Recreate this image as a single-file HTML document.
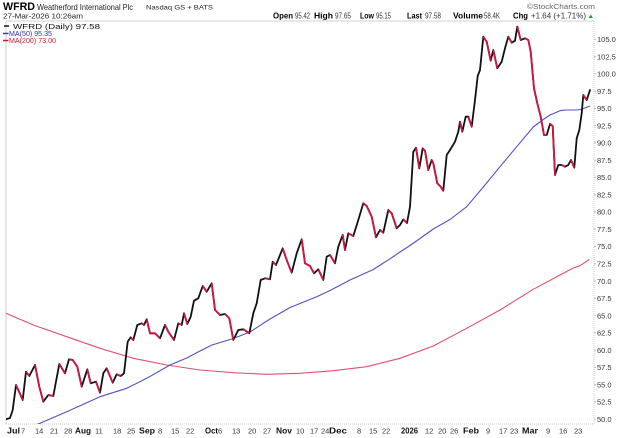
<!DOCTYPE html>
<html><head><meta charset="utf-8"><style>
html,body{margin:0;padding:0;background:#fff;}
svg{display:block;}
text{font-family:"Liberation Sans",Arial,sans-serif;}
</style></head><body>
<svg width="620" height="438" viewBox="0 0 620 438" xmlns="http://www.w3.org/2000/svg">
<rect width="620" height="438" fill="#fff"/>
<!-- header -->
<text x="3" y="10" font-size="11" font-weight="bold" textLength="32" lengthAdjust="spacingAndGlyphs">WFRD</text>
<text x="37" y="10" font-size="8.5" fill="#222" textLength="96" lengthAdjust="spacingAndGlyphs">Weatherford International Plc</text>
<text x="146" y="9.5" font-size="6.5" fill="#222" textLength="67" lengthAdjust="spacingAndGlyphs">Nasdaq GS + BATS</text>
<text x="527" y="9" font-size="7.5" fill="#666" textLength="68" lengthAdjust="spacingAndGlyphs">©StockCharts.com</text>
<text x="3" y="18.5" font-size="7.5" fill="#222" textLength="80" lengthAdjust="spacingAndGlyphs">27-Mar-2026 10:26am</text>
<g font-size="8.5" font-weight="bold">
<text x="273" y="18.5" textLength="20" lengthAdjust="spacingAndGlyphs">Open</text>
<text x="314" y="18.5" textLength="19" lengthAdjust="spacingAndGlyphs">High</text>
<text x="360" y="18.5" textLength="14" lengthAdjust="spacingAndGlyphs">Low</text>
<text x="407" y="18.5" textLength="15" lengthAdjust="spacingAndGlyphs">Last</text>
<text x="453" y="18.5" textLength="30" lengthAdjust="spacingAndGlyphs">Volume</text>
<text x="513" y="18.5" textLength="15" lengthAdjust="spacingAndGlyphs">Chg</text>
</g>
<g font-size="8" fill="#333">
<text x="295" y="18.5" textLength="15" lengthAdjust="spacingAndGlyphs">95.42</text>
<text x="335" y="18.5" textLength="16" lengthAdjust="spacingAndGlyphs">97.65</text>
<text x="376" y="18.5" textLength="15" lengthAdjust="spacingAndGlyphs">95.15</text>
<text x="425" y="18.5" textLength="16" lengthAdjust="spacingAndGlyphs">97.58</text>
<text x="484" y="18.5" textLength="16" lengthAdjust="spacingAndGlyphs">58.4K</text>
<text x="531" y="18.5" textLength="55" lengthAdjust="spacingAndGlyphs">+1.64 (+1.71%)</text>
</g>
<polygon points="588.5,18 593,18 590.75,14.5" fill="#2a9a2a"/>

<!-- plot frame -->
<line x1="6" y1="21" x2="594" y2="21" stroke="#d0d0d0" stroke-width="1"/>
<line x1="6" y1="21" x2="6" y2="424" stroke="#d0d0d0" stroke-width="1"/>
<line x1="594" y1="21" x2="594" y2="424" stroke="#c8c8c8" stroke-width="1" stroke-dasharray="1,1"/>
<line x1="6" y1="424" x2="594" y2="424" stroke="#c8c8c8" stroke-width="1" stroke-dasharray="1,1"/>

<!-- y axis labels -->
<g font-size="7.5" fill="#333">
<text x="597" y="42">105.0</text>
<text x="597" y="59.3">102.5</text>
<text x="597" y="76.6">100.0</text>
<text x="597" y="93.8">97.5</text>
<text x="597" y="111.1">95.0</text>
<text x="597" y="128.4">92.5</text>
<text x="597" y="145.6">90.0</text>
<text x="597" y="162.9">87.5</text>
<text x="597" y="180.2">85.0</text>
<text x="597" y="197.4">82.5</text>
<text x="597" y="214.7">80.0</text>
<text x="597" y="232">77.5</text>
<text x="597" y="249.2">75.0</text>
<text x="597" y="266.5">72.5</text>
<text x="597" y="283.8">70.0</text>
<text x="597" y="301">67.5</text>
<text x="597" y="318.3">65.0</text>
<text x="597" y="335.6">62.5</text>
<text x="597" y="352.8">60.0</text>
<text x="597" y="370.1">57.5</text>
<text x="597" y="387.4">55.0</text>
<text x="597" y="404.6">52.5</text>
<text x="597" y="421.9">50.0</text>
</g>
<g stroke="#bbb" stroke-width="1">
<line x1="594" y1="39.3" x2="596" y2="39.3"/><line x1="594" y1="56.6" x2="596" y2="56.6"/><line x1="594" y1="73.8" x2="596" y2="73.8"/><line x1="594" y1="91.1" x2="596" y2="91.1"/><line x1="594" y1="108.4" x2="596" y2="108.4"/><line x1="594" y1="125.6" x2="596" y2="125.6"/><line x1="594" y1="142.9" x2="596" y2="142.9"/><line x1="594" y1="160.2" x2="596" y2="160.2"/><line x1="594" y1="177.4" x2="596" y2="177.4"/><line x1="594" y1="194.7" x2="596" y2="194.7"/><line x1="594" y1="212" x2="596" y2="212"/><line x1="594" y1="229.2" x2="596" y2="229.2"/><line x1="594" y1="246.5" x2="596" y2="246.5"/><line x1="594" y1="263.8" x2="596" y2="263.8"/><line x1="594" y1="281" x2="596" y2="281"/><line x1="594" y1="298.3" x2="596" y2="298.3"/><line x1="594" y1="315.6" x2="596" y2="315.6"/><line x1="594" y1="332.8" x2="596" y2="332.8"/><line x1="594" y1="350.1" x2="596" y2="350.1"/><line x1="594" y1="367.4" x2="596" y2="367.4"/><line x1="594" y1="384.6" x2="596" y2="384.6"/><line x1="594" y1="401.9" x2="596" y2="401.9"/><line x1="594" y1="419.2" x2="596" y2="419.2"/>
</g>

<!-- x axis labels -->
<g font-size="8.5" font-weight="bold" fill="#111">
<text x="7" y="433.5" textLength="13" lengthAdjust="spacingAndGlyphs">Jul</text>
<text x="75" y="433.5" textLength="16" lengthAdjust="spacingAndGlyphs">Aug</text>
<text x="139" y="433.5" textLength="16" lengthAdjust="spacingAndGlyphs">Sep</text>
<text x="205" y="433.5" textLength="13" lengthAdjust="spacingAndGlyphs">Oct</text>
<text x="276" y="433.5" textLength="16" lengthAdjust="spacingAndGlyphs">Nov</text>
<text x="329" y="433.5" textLength="18" lengthAdjust="spacingAndGlyphs">Dec</text>
<text x="401" y="433.5" textLength="17" lengthAdjust="spacingAndGlyphs">2026</text>
<text x="463" y="433.5" textLength="16" lengthAdjust="spacingAndGlyphs">Feb</text>
<text x="522" y="433.5" textLength="16" lengthAdjust="spacingAndGlyphs">Mar</text>
</g>
<g font-size="7.5" fill="#333">
<text x="21" y="433.5">7</text>
<text x="35" y="433.5">14</text>
<text x="50" y="433.5">21</text>
<text x="64" y="433.5">28</text>
<text x="95" y="433.5">11</text>
<text x="113" y="433.5">18</text>
<text x="127" y="433.5">25</text>
<text x="158" y="433.5">8</text>
<text x="171" y="433.5">15</text>
<text x="186" y="433.5">22</text>
<text x="218" y="433.5">6</text>
<text x="232" y="433.5">13</text>
<text x="248" y="433.5">20</text>
<text x="263" y="433.5">27</text>
<text x="296" y="433.5">10</text>
<text x="310" y="433.5">17</text>
<text x="321" y="433.5">24</text>
<text x="357" y="433.5">8</text>
<text x="369" y="433.5">15</text>
<text x="382" y="433.5">22</text>
<text x="425" y="433.5">12</text>
<text x="438" y="433.5">20</text>
<text x="450" y="433.5">26</text>
<text x="486" y="433.5">9</text>
<text x="499" y="433.5">17</text>
<text x="510" y="433.5">23</text>
<text x="546" y="433.5">9</text>
<text x="559" y="433.5">16</text>
<text x="574" y="433.5">23</text>
</g>

<defs><clipPath id="pc"><rect x="6" y="21" width="588" height="403"/></clipPath></defs>
<g clip-path="url(#pc)" fill="none">
<!-- MA200 -->
<polyline stroke="#e0506e" stroke-width="1.1" stroke-linejoin="round" points="6,313.3 33.3,325 66.7,336.7 100,348.3 133.3,358.3 166.7,365 200,370 233.3,372.7 266.7,374.3 300,373.3 333.3,370.7 366.7,366.7 400,358.3 433.3,346 466.7,328.3 500,310 533.3,289.3 560,275 573.3,268 580,265.7 589.3,259.5"/>
<!-- MA50 -->
<polyline stroke="#5252c4" stroke-width="1.1" stroke-linejoin="round" points="28,428 40,423.3 66.7,411.7 100,396.7 126.7,388.3 146.7,378.3 170,365 186.7,358 200,351 212,345 233.3,338.5 250,332 270,319 290,307.5 316.7,296.7 330,290.5 350,280 373.3,269.5 390,258.8 400,252 410,245.5 420,238.5 433.3,229 450,219.5 466.7,206.7 483.3,187 500,166.7 516.7,146.7 533.3,127 543.3,119.5 550,115 560,110.7 565,110 576.7,110 581.7,109.3 590,106"/>
<!-- price black -->
<polyline stroke="#111" stroke-width="1.8" stroke-linejoin="round" stroke-linecap="round" points="6,419.3 10,418 12.7,410 16,385 18.3,390 22.7,400 26,371.7 29.3,376 35,365 39.3,386.7 43.3,401.7 48.3,395 53.3,396 59.3,364 65,373.3 69,359.3 72.7,360 77.3,366.7 81.7,386.7 87.3,369.3 90.7,383.3 96,381.7 100,392.7 103.3,373.3 106.7,368.3 112.7,382.7 116.7,374.3 120.7,376 124,373.3 127.7,341.7 130.7,337.3 133.3,340 137.3,325 141.7,323.3 144,325 146.7,319.3 150,333.3 155,333.3 160,338.3 165,325 168.3,331.7 174,340 178.3,323.3 181.7,325 184,313.3 187.3,324 190.7,316.7 194,300.7 198.3,298.3 202.7,286 206.7,291.7 211.7,283.3 215,310 220,315 225,314 229.3,318.3 233.3,340 238.3,330 243.3,329.3 249.3,333.3 253.3,313.3 256.7,303.3 260.7,280 265,278.3 270,279.3 272.7,261.7 276,265 282.7,248.3 287.3,261.7 291.7,272.7 296.7,253.3 301.7,239.3 305,263.3 310,266 314,273.3 318.3,269.3 323.3,280 326.7,256.7 330,255 335,263.3 338.3,246.7 342.7,235 345,250 348.3,233.3 353.3,236 358.3,220 363.3,203.3 366.7,206 371.7,216.7 376,237.3 380,230 383.3,232.7 388.3,210 391.7,213.3 396.7,228.3 400,225 403.3,219.5 407,223 410,206.7 413.3,151.7 416,147.7 419.3,168.3 422.7,148.3 425,150.7 428.3,170 431.7,160 433.3,163.3 437.3,183.3 440.7,186.7 443.3,190.7 446.7,155 450,150 455,141.7 458.3,131.7 460,121.7 462.3,131.7 465.7,116.7 468.3,116.7 471.7,126.7 475,100 477.7,76 480,70 483.3,36.7 486.7,41.7 490.7,60.7 493.3,50 497.3,68.3 501.7,61.7 505,48.3 508.3,36.7 511.7,42.7 515,40.7 517.3,26.7 520.7,40 525,38.3 528.3,40 530.7,51.7 534,88.3 537.3,103.3 540.7,116.7 544,135 546.7,135 550,124 552.7,126 555,175 558.3,165 561.7,165 565,166.7 568.3,165 571,160 574.3,167.7 576.7,138.3 579.3,130 581.7,113.3 583.3,95 586.7,100 590,90"/>
<!-- price red (down) -->
<g stroke="#d4143e" stroke-width="1.8" stroke-linejoin="round" stroke-linecap="butt">
<polyline points="16,385 18.3,390 22.7,400"/>
<polyline points="26,371.7 29.3,376"/>
<polyline points="35,365 39.3,386.7 43.3,401.7"/>
<polyline points="48.3,395 53.3,396"/>
<polyline points="59.3,364 65,373.3"/>
<polyline points="69,359.3 72.7,360 77.3,366.7 81.7,386.7"/>
<polyline points="87.3,369.3 90.7,383.3"/>
<polyline points="96,381.7 100,392.7"/>
<polyline points="106.7,368.3 112.7,382.7"/>
<polyline points="116.7,374.3 120.7,376"/>
<polyline points="130.7,337.3 133.3,340"/>
<polyline points="141.7,323.3 144,325"/>
<polyline points="146.7,319.3 150,333.3 155,333.3 160,338.3"/>
<polyline points="165,325 168.3,331.7 174,340"/>
<polyline points="178.3,323.3 181.7,325"/>
<polyline points="184,313.3 187.3,324"/>
<polyline points="202.7,286 206.7,291.7"/>
<polyline points="211.7,283.3 215,310 220,315"/>
<polyline points="225,314 229.3,318.3 233.3,340"/>
<polyline points="243.3,329.3 249.3,333.3"/>
<polyline points="265,278.3 270,279.3"/>
<polyline points="272.7,261.7 276,265"/>
<polyline points="282.7,248.3 287.3,261.7 291.7,272.7"/>
<polyline points="301.7,239.3 305,263.3 310,266 314,273.3"/>
<polyline points="318.3,269.3 323.3,280"/>
<polyline points="330,255 335,263.3"/>
<polyline points="342.7,235 345,250"/>
<polyline points="348.3,233.3 353.3,236"/>
<polyline points="363.3,203.3 366.7,206 371.7,216.7 376,237.3"/>
<polyline points="380,230 383.3,232.7"/>
<polyline points="388.3,210 391.7,213.3 396.7,228.3"/>
<polyline points="403.3,219.5 407,223"/>
<polyline points="416,147.7 419.3,168.3"/>
<polyline points="422.7,148.3 425,150.7 428.3,170"/>
<polyline points="431.7,160 433.3,163.3 437.3,183.3 440.7,186.7 443.3,190.7"/>
<polyline points="460,121.7 462.3,131.7"/>
<polyline points="468.3,116.7 471.7,126.7"/>
<polyline points="483.3,36.7 486.7,41.7 490.7,60.7"/>
<polyline points="493.3,50 497.3,68.3"/>
<polyline points="508.3,36.7 511.7,42.7"/>
<polyline points="517.3,26.7 520.7,40"/>
<polyline points="525,38.3 528.3,40 530.7,51.7 534,88.3 537.3,103.3 540.7,116.7 544,135 546.7,135"/>
<polyline points="550,124 552.7,126 555,175"/>
<polyline points="561.7,165 565,166.7"/>
<polyline points="571,160 574.3,167.7"/>
<polyline points="583.3,95 586.7,100"/>
</g>
</g>

<!-- legend -->
<line x1="4" y1="26" x2="9" y2="26" stroke="#111" stroke-width="1.5"/>
<text x="13" y="29" font-size="7.5" fill="#111" textLength="87" lengthAdjust="spacingAndGlyphs">WFRD (Daily) 97.58</text>
<line x1="3" y1="33.5" x2="8.5" y2="33.5" stroke="#3a3ab0" stroke-width="1.5"/>
<text x="9" y="36" font-size="7" fill="#3030a8" textLength="43" lengthAdjust="spacingAndGlyphs">MA(50) 95.35</text>
<line x1="3" y1="40.5" x2="8.5" y2="40.5" stroke="#d4143e" stroke-width="1.5"/>
<text x="9" y="43" font-size="7" fill="#d0143c" textLength="47" lengthAdjust="spacingAndGlyphs">MA(200) 73.00</text>
</svg>
</body></html>
